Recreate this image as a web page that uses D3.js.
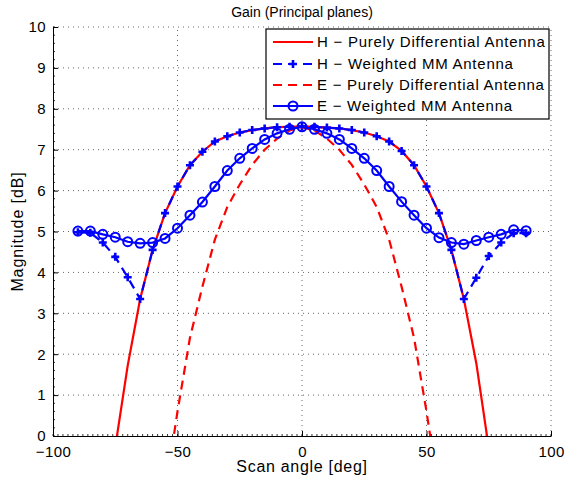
<!DOCTYPE html>
<html>
<head>
<meta charset="utf-8">
<script src="https://cdn.jsdelivr.net/npm/d3@7"></script>
<style>
  body { margin: 0; background: #fff; }
  svg { font-family: "Liberation Sans", Arial, sans-serif; }
</style>
</head>
<body>
<svg id="chart"></svg>
<script>
var vWidth = 566;
var vHeight = 480;
var margin = {top: 27, right: 15, bottom: 44, left: 53};

// scan angles (deg) for the marker series
var angles = [-90,-85,-80,-75,-70,-65,-60,-55,-50,-45,-40,-35,-30,-25,-20,-15,-10,-5,0,
  5,10,15,20,25,30,35,40,45,50,55,60,65,70,75,80,85,90];

var hWeighted = [4.98,4.97,4.73,4.38,3.88,3.35,4.55,5.45,6.1,6.62,6.95,7.2,7.33,7.42,7.48,7.52,7.55,7.56,7.57,
  7.56,7.54,7.52,7.48,7.42,7.33,7.2,6.97,6.62,6.1,5.45,4.55,3.35,3.87,4.4,4.73,4.96,4.96];

var eWeighted = [5.01,5.01,4.93,4.86,4.75,4.71,4.73,4.83,5.08,5.4,5.72,6.1,6.49,6.79,7.03,7.25,7.4,7.5,7.56,
  7.5,7.4,7.25,7.03,6.79,6.49,6.1,5.73,5.4,5.08,4.85,4.73,4.69,4.78,4.86,4.93,5.04,5.02];

// purely differential antenna, H plane
var hPureAngles = [-76,-70,-65,-60,-55,-50,-45,-40,-35,-30,-25,-20,-15,-10,-5,0,
  5,10,15,20,25,30,35,40,45,50,55,60,65,70,76];
var hPure = [-0.67,1.72,3.35,4.55,5.45,6.1,6.62,6.95,7.2,7.33,7.42,7.48,7.52,7.55,7.56,7.57,
  7.56,7.54,7.52,7.48,7.42,7.33,7.2,6.97,6.62,6.1,5.45,4.55,3.35,1.78,-0.7];

// purely differential antenna, E plane
var ePureAngles = [-55,-50,-45,-40,-35,-30,-25,-20,-15,-10,-5,0,5,10,15,20,25,30,35,40,45,50,55];
var ePure = [-1.4,0.6,2.4,3.65,4.8,5.6,6.15,6.63,7.0,7.27,7.47,7.55,7.47,7.27,7.0,6.63,6.15,5.6,4.8,3.65,2.4,0.6,-1.4];

var xTicks = [-100,-50,0,50,100];
var yTicks = [0,1,2,3,4,5,6,7,8,9,10];

var legendLabels = [
  "H \u2212 Purely Differential Antenna",
  "H \u2212 Weighted MM Antenna",
  "E \u2212 Purely Differential Antenna",
  "E \u2212 Weighted MM Antenna"
];

var red = "#ff0000", blue = "#0000ff";

var svg = d3.select("#chart")
  .attr("width", vWidth)
  .attr("height", vHeight);

var x = d3.scaleLinear().domain([-100, 100]).range([margin.left, vWidth - margin.right]);
var y = d3.scaleLinear().domain([0, 10]).range([vHeight - margin.bottom, margin.top]);

svg.append("clipPath").attr("id", "clip")
  .append("rect")
  .attr("x", x(-100)).attr("y", y(10))
  .attr("width", x(100) - x(-100)).attr("height", y(0) - y(10));

// dotted grid
var grid = svg.append("g");
grid.selectAll(".gx").data(xTicks.slice(1)).enter().append("line")
  .attr("x1", d => x(d)).attr("x2", d => x(d))
  .attr("y1", y(0)).attr("y2", y(10))
  .attr("stroke", "#666").attr("stroke-width", 1).attr("stroke-dasharray", "1,4");
grid.selectAll(".gy").data(yTicks.slice(1)).enter().append("line")
  .attr("y1", d => y(d)).attr("y2", d => y(d))
  .attr("x1", x(-100)).attr("x2", x(100))
  .attr("stroke", "#666").attr("stroke-width", 1).attr("stroke-dasharray", "1,4");

// axes (ticks pointing inward)
var xAxis = svg.append("g")
  .attr("transform", "translate(0," + y(0) + ")")
  .call(d3.axisBottom(x).tickValues(xTicks).tickSizeInner(-5).tickSizeOuter(0).tickPadding(10)
    .tickFormat(d => d < 0 ? "\u2212" + Math.abs(d) : d));
var yAxis = svg.append("g")
  .attr("transform", "translate(" + x(-100) + ",0)")
  .call(d3.axisLeft(y).tickValues(yTicks).tickSizeInner(-5).tickSizeOuter(0).tickPadding(7));

[xAxis, yAxis].forEach(function(a) {
  a.select(".domain").attr("stroke", "#000");
  a.selectAll("line").attr("stroke", "#000");
  a.selectAll("text").attr("font-size", 15).attr("fill", "#000")
    .attr("letter-spacing", 0.4)
    .attr("font-family", "Liberation Sans, Arial, sans-serif");
});

// minor ticks
svg.append("g").selectAll("line").data(d3.range(-100, 101, 2)).enter().append("line")
  .attr("x1", d => x(d)).attr("x2", d => x(d))
  .attr("y1", y(0)).attr("y2", y(0) - 2)
  .attr("stroke", "#000").attr("stroke-width", 0.8);
svg.append("g").selectAll("line").data(d3.range(0, 10.01, 0.2)).enter().append("line")
  .attr("y1", d => y(d)).attr("y2", d => y(d))
  .attr("x1", x(-100)).attr("x2", x(-100) + 2)
  .attr("stroke", "#000").attr("stroke-width", 0.8);

var plot = svg.append("g").attr("clip-path", "url(#clip)");

function drawLine(xs, ys, color, dash) {
  var line = d3.line().x((d, i) => x(xs[i])).y(d => y(d));
  plot.append("path")
    .datum(ys)
    .attr("d", line)
    .attr("fill", "none")
    .attr("stroke", color)
    .attr("stroke-width", 2.2)
    .attr("stroke-dasharray", dash ? "9,6" : null);
}

function plusMarker(g, cx, cy) {
  g.append("path")
    .attr("d", "M" + (cx - 4) + "," + cy + "H" + (cx + 4) + "M" + cx + "," + (cy - 4) + "V" + (cy + 4))
    .attr("stroke", blue).attr("stroke-width", 2.6).attr("fill", "none");
}

function circleMarker(g, cx, cy) {
  g.append("circle")
    .attr("cx", cx).attr("cy", cy).attr("r", 4.5)
    .attr("fill", "none").attr("stroke", blue).attr("stroke-width", 2);
}

drawLine(hPureAngles, hPure, red, false);

drawLine(angles, hWeighted, blue, true);
var plusG = plot.append("g");
hWeighted.forEach((v, i) => plusMarker(plusG, x(angles[i]), y(v)));

drawLine(ePureAngles, ePure, red, true);

drawLine(angles, eWeighted, blue, false);
var circG = plot.append("g");
eWeighted.forEach((v, i) => circleMarker(circG, x(angles[i]), y(v)));

// labels
svg.append("text")
  .attr("x", (x(-100) + x(100)) / 2).attr("y", 17)
  .attr("text-anchor", "middle").attr("font-size", 14)
  .text("Gain (Principal planes)");

svg.append("text")
  .attr("x", (x(-100) + x(100)) / 2).attr("y", 472)
  .attr("text-anchor", "middle").attr("font-size", 16).attr("letter-spacing", 0.7)
  .text("Scan angle [deg]");

svg.append("text")
  .attr("transform", "translate(23," + (y(5)) + ") rotate(-90)")
  .attr("text-anchor", "middle").attr("font-size", 16).attr("letter-spacing", 0.9)
  .text("Magnitude [dB]");

// legend
var legend = svg.append("g");
legend.append("rect")
  .attr("x", 266).attr("y", 29).attr("width", 283).attr("height", 90)
  .attr("fill", "#fff").attr("stroke", "#000").attr("stroke-width", 1.2);

var rowY = [42, 64, 85, 106];
var styles = [
  {color: red, dash: null, marker: null},
  {color: blue, dash: "9,6", marker: "plus"},
  {color: red, dash: "9,6", marker: null},
  {color: blue, dash: null, marker: "circle"}
];

legendLabels.forEach(function(label, i) {
  var s = styles[i];
  legend.append("line")
    .attr("x1", 273).attr("x2", 313)
    .attr("y1", rowY[i]).attr("y2", rowY[i])
    .attr("stroke", s.color).attr("stroke-width", 2.2)
    .attr("stroke-dasharray", s.dash);
  if (s.marker == "plus") plusMarker(legend, 293, rowY[i]);
  if (s.marker == "circle") circleMarker(legend, 293, rowY[i]);
  legend.append("text")
    .attr("x", 317).attr("y", rowY[i] + 5)
    .attr("font-size", 15).attr("letter-spacing", 0.75)
    .text(label);
});
</script>
</body>
</html>
